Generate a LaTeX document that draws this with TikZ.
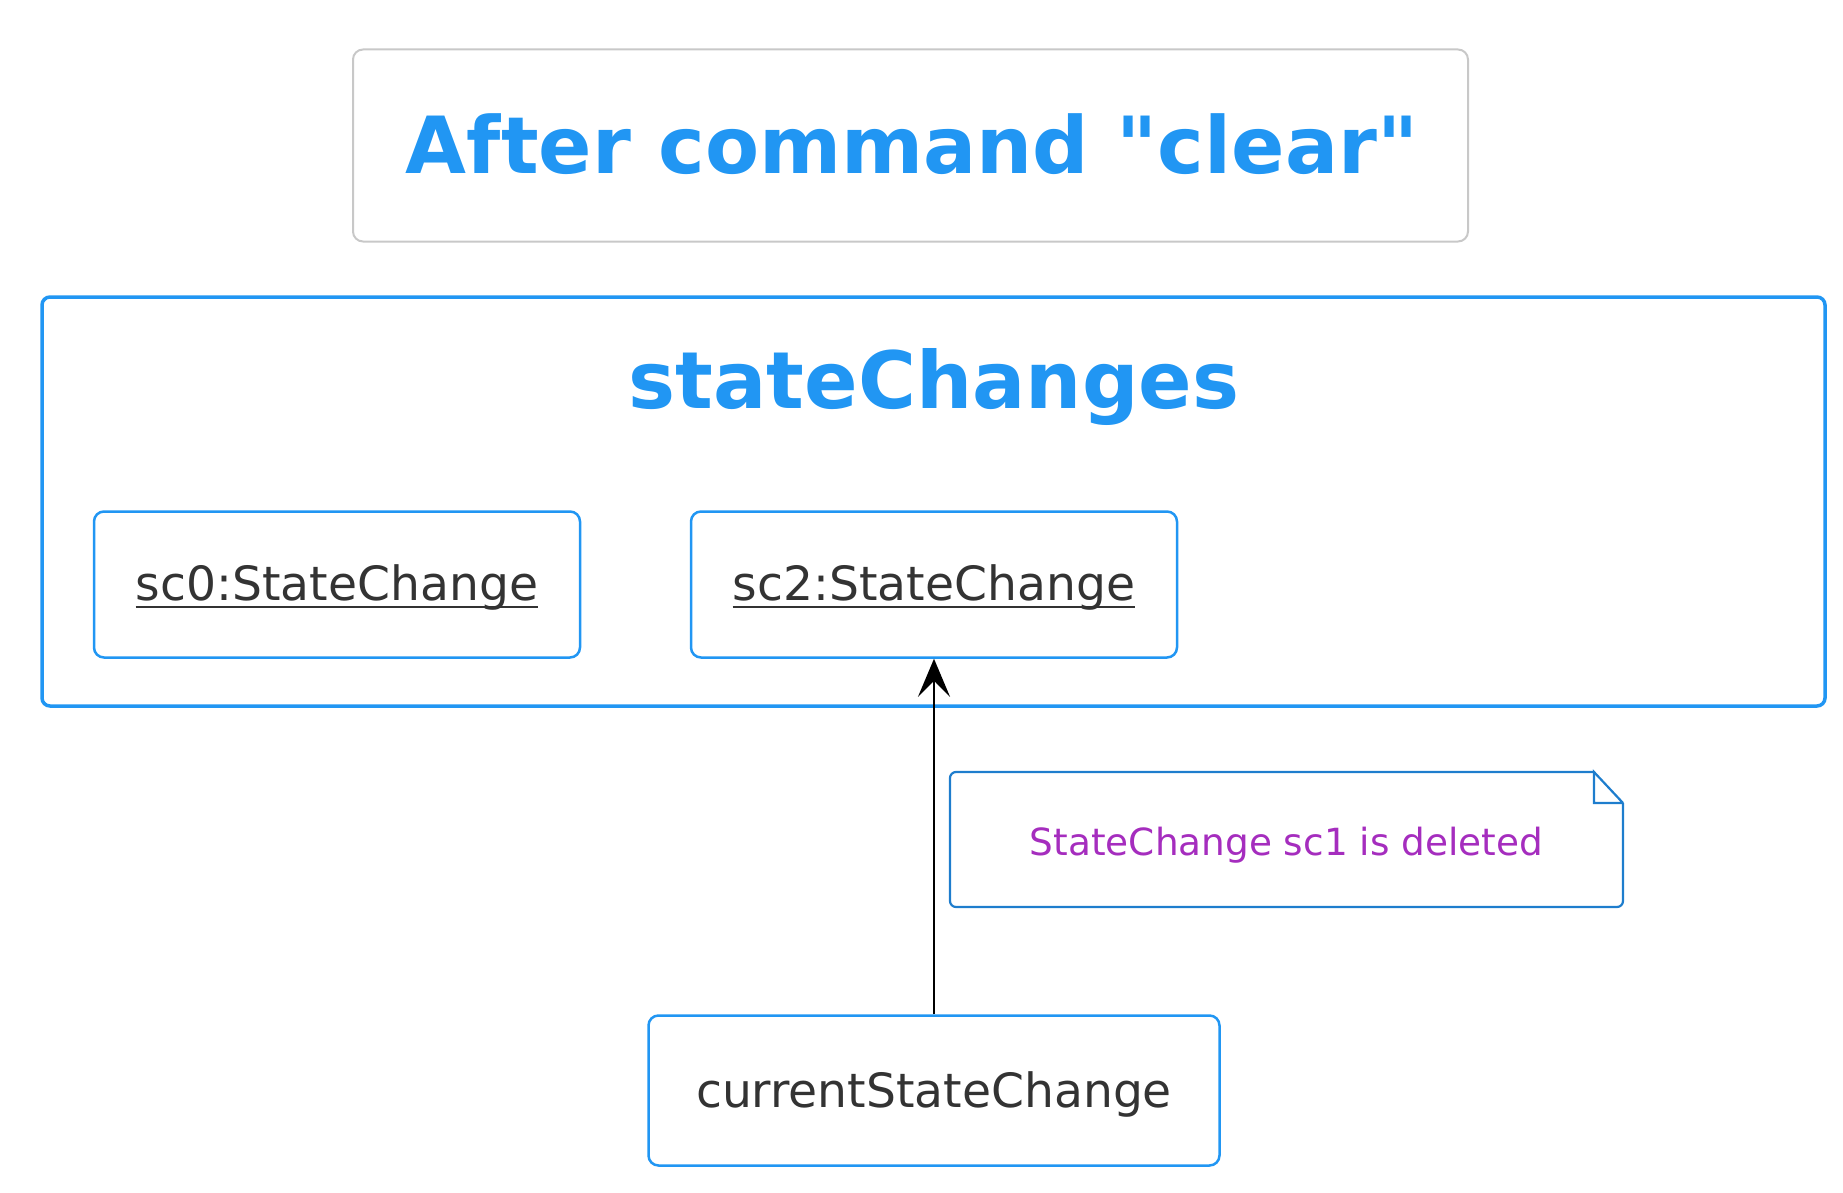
\documentclass[tikz,border=0pt]{standalone}
\usepackage{fontspec}
\setmainfont{DejaVu Sans}[Ligatures=TeXOff]
\usetikzlibrary{arrows.meta}
\definecolor{umlblue}{RGB}{33,150,243}
\definecolor{notblue}{RGB}{30,125,205}
\definecolor{titlegray}{RGB}{200,200,200}
\definecolor{textdark}{RGB}{51,51,51}
\definecolor{notepurple}{RGB}{165,45,190}
\tikzset{
  titlebox/.style={draw=titlegray, line width=1pt, rounded corners=5pt, inner sep=0pt},
  framebox/.style={draw=umlblue, line width=1.75pt, rounded corners=4pt, inner sep=0pt},
  objbox/.style={draw=umlblue, line width=1.25pt, rounded corners=5pt, inner sep=0pt},
  bigtxt/.style={inner sep=0pt, anchor=base, text=umlblue, font=\fontsize{39.5}{46}\selectfont\bfseries},
  objtxt/.style={inner sep=0pt, anchor=base, text=textdark, font=\fontsize{23.6}{28}\selectfont},
  notetxt/.style={inner sep=0pt, anchor=base, text=notepurple, font=\fontsize{18.7}{22}\selectfont},
  uline/.style={draw=textdark, line width=1pt},
  notestyle/.style={draw=notblue, line width=1.1pt},
  link/.style={draw=black, line width=1pt, -{Stealth[length=19pt,width=16pt,inset=8pt]}}
}
\begin{document}
\begin{tikzpicture}[x=0.5pt,y=-0.5pt]
\useasboundingbox (0,0) rectangle (1843,1193);
% title
\node[titlebox, minimum width=557.5pt, minimum height=96pt] (title) at (910.5,145.5) {};
\node[bigtxt, font=\fontsize{39.4}{46}\selectfont\bfseries] (titletext) at (912,174) {After command "clear"};
% outer frame
\node[framebox, minimum width=891.5pt, minimum height=204.5pt] (frame) at (933.5,501.5) {};
\node[bigtxt] (frametext) at (934,408) {stateChanges};
% objects
\node[objbox, minimum width=243pt, minimum height=73pt] (sc0) at (337,584.5) {};
\node[objtxt] (sc0t) at (337,600) {sc0:StateChange};
\draw[uline] ([yshift=-3.5pt]sc0t.base west) -- ([yshift=-3.5pt]sc0t.base east);
\node[objbox, minimum width=243pt, minimum height=73pt] (sc2) at (934,584.5) {};
\node[objtxt] (sc2t) at (934,600) {sc2:StateChange};
\draw[uline] ([yshift=-3.5pt]sc2t.base west) -- ([yshift=-3.5pt]sc2t.base east);
% current
\node[objbox, minimum width=285.5pt, minimum height=75pt] (cur) at (934,1090.5) {};
\node[objtxt] (curt) at (934,1107) {currentStateChange};
% arrow
\draw[link] (cur) -- (sc2);
% note
\draw[notestyle, rounded corners=3pt] (1594,772) -- (950,772) -- (950,907) -- (1623,907) -- (1623,803);
\draw[notestyle] (1623,803) -- (1594,772) -- (1594,803) -- (1623,803);
\node[notetxt] (notet) at (1286.5,855) {StateChange sc1 is deleted};
\end{tikzpicture}
\end{document}
